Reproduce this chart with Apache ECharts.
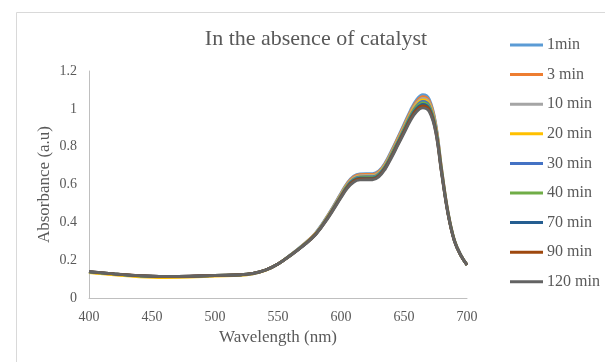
<!DOCTYPE html>
<html>
<head>
<meta charset="utf-8">
<script src="https://cdn.jsdelivr.net/npm/echarts@6/dist/echarts.min.js"></script>
<style>
  html, body { margin: 0; padding: 0; background: #ffffff; }
  #chart { width: 605px; height: 362px; }
</style>
</head>
<body>
<div id="chart"></div>
<script>
// Wavelength grid (nm)
const wavelengths = [400, 420, 440, 460, 480, 500, 520, 530, 540, 550, 560, 570, 580, 590, 600, 605, 610, 615, 620, 625, 630, 635, 640, 645, 650, 655, 660, 665, 670, 675, 680, 685, 690, 695, 700];

// Absorbance spectra at each reaction time
const abs1min   = [0.136, 0.125, 0.116, 0.112, 0.113, 0.118, 0.121, 0.128, 0.147, 0.180, 0.229, 0.282, 0.346, 0.443, 0.555, 0.609, 0.644, 0.656, 0.657, 0.657, 0.672, 0.715, 0.779, 0.848, 0.919, 0.991, 1.049, 1.075, 1.052, 0.929, 0.678, 0.454, 0.307, 0.229, 0.175];
const abs3min   = [0.137, 0.126, 0.117, 0.112, 0.114, 0.119, 0.122, 0.129, 0.147, 0.180, 0.228, 0.281, 0.344, 0.440, 0.551, 0.605, 0.640, 0.652, 0.653, 0.653, 0.668, 0.710, 0.773, 0.842, 0.912, 0.983, 1.040, 1.065, 1.042, 0.922, 0.674, 0.452, 0.306, 0.228, 0.175];
const abs10min  = [0.137, 0.126, 0.116, 0.112, 0.113, 0.119, 0.122, 0.129, 0.147, 0.180, 0.228, 0.280, 0.343, 0.438, 0.548, 0.601, 0.635, 0.647, 0.648, 0.648, 0.663, 0.705, 0.768, 0.836, 0.905, 0.975, 1.031, 1.055, 1.033, 0.915, 0.670, 0.450, 0.305, 0.228, 0.175];
const abs20min  = [0.134, 0.122, 0.112, 0.108, 0.110, 0.116, 0.120, 0.128, 0.146, 0.180, 0.227, 0.279, 0.341, 0.436, 0.545, 0.598, 0.631, 0.643, 0.644, 0.644, 0.659, 0.701, 0.763, 0.831, 0.899, 0.969, 1.024, 1.047, 1.025, 0.909, 0.667, 0.448, 0.304, 0.227, 0.175];
const abs30min  = [0.138, 0.127, 0.117, 0.113, 0.114, 0.119, 0.122, 0.129, 0.147, 0.180, 0.227, 0.278, 0.340, 0.434, 0.542, 0.594, 0.628, 0.640, 0.641, 0.641, 0.656, 0.697, 0.759, 0.826, 0.894, 0.962, 1.016, 1.039, 1.017, 0.904, 0.664, 0.447, 0.303, 0.227, 0.175];
const abs40min  = [0.138, 0.127, 0.117, 0.113, 0.114, 0.120, 0.123, 0.130, 0.148, 0.180, 0.226, 0.278, 0.339, 0.432, 0.539, 0.591, 0.624, 0.636, 0.637, 0.637, 0.652, 0.694, 0.755, 0.822, 0.889, 0.957, 1.010, 1.032, 1.011, 0.899, 0.661, 0.445, 0.303, 0.226, 0.175];
const abs70min  = [0.139, 0.127, 0.118, 0.114, 0.115, 0.120, 0.123, 0.130, 0.148, 0.180, 0.226, 0.277, 0.338, 0.430, 0.537, 0.588, 0.621, 0.633, 0.634, 0.634, 0.649, 0.690, 0.750, 0.817, 0.883, 0.950, 1.002, 1.024, 1.003, 0.893, 0.658, 0.444, 0.302, 0.226, 0.175];
const abs90min  = [0.139, 0.128, 0.118, 0.114, 0.115, 0.120, 0.123, 0.130, 0.148, 0.180, 0.225, 0.276, 0.337, 0.428, 0.534, 0.584, 0.617, 0.629, 0.630, 0.630, 0.645, 0.685, 0.746, 0.811, 0.877, 0.943, 0.994, 1.015, 0.995, 0.887, 0.654, 0.442, 0.301, 0.225, 0.175];
const abs120min = [0.140, 0.128, 0.118, 0.114, 0.115, 0.120, 0.123, 0.130, 0.148, 0.180, 0.225, 0.275, 0.335, 0.425, 0.530, 0.580, 0.612, 0.624, 0.625, 0.625, 0.640, 0.680, 0.740, 0.805, 0.870, 0.935, 0.985, 1.005, 0.985, 0.880, 0.650, 0.440, 0.300, 0.225, 0.175];

const seriesNames = ['1min', '3 min', '10 min', '20 min', '30 min', '40 min', '70 min', '90 min', '120 min'];
const seriesValues = [abs1min, abs3min, abs10min, abs20min, abs30min, abs40min, abs70min, abs90min, abs120min];
const seriesColors = ['#5B9BD5', '#ED7D31', '#A5A5A5', '#FFC000', '#4472C4', '#70AD47', '#255E91', '#9E480E', '#636363'];

const xTicks = [400, 450, 500, 550, 600, 650, 700];
const yTicks = [0, 0.2, 0.4, 0.6, 0.8, 1, 1.2];

const FONT = '"Liberation Serif", "Times New Roman", serif';
const TEXT = '#595959';

const chart = echarts.init(document.getElementById('chart'), null, { renderer: 'canvas' });

chart.setOption({
  animation: false,
  backgroundColor: '#ffffff',
  color: seriesColors,
  graphic: [{
    type: 'rect',
    left: 14, top: 10,
    shape: { width: 589, height: 360 },
    style: { fill: 'none', stroke: '#D9D9D9', lineWidth: 1 },
    silent: true
  }],
  title: {
    text: 'In the absence of catalyst',
    left: 311, top: 23,
    textAlign: 'center',
    textStyle: { fontFamily: FONT, fontSize: 22, fontWeight: 'normal', color: TEXT }
  },
  legend: {
    orient: 'vertical',
    left: 505, top: 32,
    itemWidth: 33, itemHeight: 3,
    itemGap: 13.6,
    icon: 'rect',
    data: seriesNames.map(n => ({ name: n, icon: 'rect' })),
    textStyle: { fontFamily: FONT, fontSize: 16, color: TEXT, padding: [0, 0, 0, -1] }
  },
  grid: { left: 89, right: 138, top: 71, bottom: 64, containLabel: false },
  xAxis: {
    type: 'value',
    min: xTicks[0], max: xTicks[xTicks.length - 1], interval: 50,
    name: 'Wavelength (nm)',
    nameLocation: 'middle', nameGap: 31,
    nameMoveOverlap: false,
    nameTextStyle: { fontFamily: FONT, fontSize: 17, color: TEXT },
    axisLine: { show: true, lineStyle: { color: '#BFBFBF', width: 1 } },
    axisTick: { show: false },
    splitLine: { show: false },
    axisLabel: { fontFamily: FONT, fontSize: 14, color: TEXT, margin: 12 }
  },
  yAxis: {
    type: 'value',
    min: yTicks[0], max: yTicks[yTicks.length - 1], interval: 0.2,
    name: 'Absorbance (a.u)',
    nameLocation: 'middle', nameGap: 36,
    nameMoveOverlap: false,
    nameTextStyle: { fontFamily: FONT, fontSize: 17, color: TEXT },
    axisLine: { show: true, lineStyle: { color: '#BFBFBF', width: 1 } },
    axisTick: { show: false },
    splitLine: { show: false },
    axisLabel: {
      fontFamily: FONT, fontSize: 14, color: TEXT, margin: 12,
      formatter: v => String(Math.round(v * 10) / 10)
    }
  },
  series: seriesNames.map((name, i) => ({
    name: name,
    type: 'line',
    smooth: 0.4,
    showSymbol: false,
    data: wavelengths.map((w, j) => [w, seriesValues[i][j]]),
    lineStyle: { width: 2.8, color: seriesColors[i] },
    itemStyle: { color: seriesColors[i] },
    z: 2 + i
  }))
});
</script>
</body>
</html>
